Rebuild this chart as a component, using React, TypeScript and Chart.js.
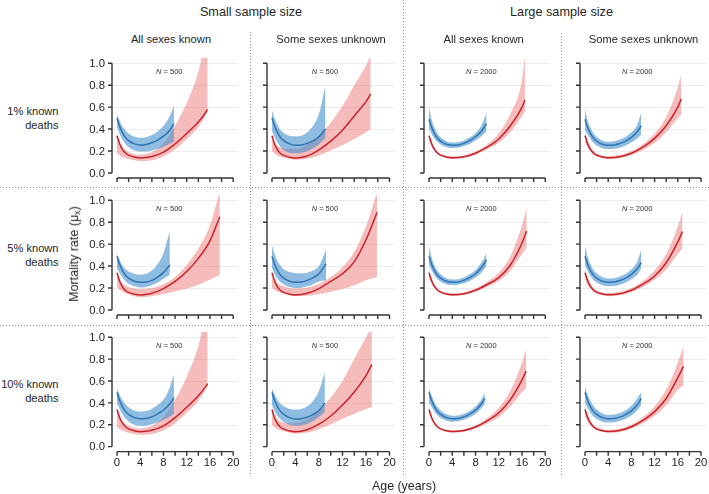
import React, { useEffect, useRef } from "react";
import { Chart, registerables } from "chart.js";

Chart.register(...registerables);

// ---------- tick labels / headers ----------
const X_TICKS = [0, 4, 8, 12, 16, 20];
const X_MINOR = [0, 2, 4, 6, 8, 10, 12, 14, 16, 18, 20];
const Y_TICKS = [0, 0.2, 0.4, 0.6, 0.8, 1.0];
const GROUP_TITLES = ["Small sample size", "Large sample size"];
const COL_TITLES = ["All sexes known", "Some sexes unknown", "All sexes known", "Some sexes unknown"];
const ROW_TITLES = [["1% known", "deaths"], ["5% known", "deaths"], ["10% known", "deaths"]];
const SAMPLE_N = [500, 500, 2000, 2000];

// ---------- data: row 1 (1% known deaths) ----------
const r1c1BlueAge = [0, 0.5, 1, 1.5, 2, 3, 4, 5, 6, 7, 8, 9, 9.8];
const r1c1BlueMid = [0.5, 0.42, 0.36, 0.32, 0.295, 0.265, 0.255, 0.26, 0.275, 0.3, 0.335, 0.385, 0.45];
const r1c1BlueHi = [0.53, 0.47, 0.42, 0.385, 0.36, 0.33, 0.32, 0.325, 0.345, 0.38, 0.43, 0.51, 0.61];
const r1c1BlueLo = [0.42, 0.35, 0.3, 0.26, 0.235, 0.205, 0.195, 0.195, 0.205, 0.22, 0.24, 0.265, 0.285];
const r1c1RedAge = [0, 0.5, 1, 1.5, 2, 3, 4, 6, 8, 10, 12, 14, 15, 15.6];
const r1c1RedMid = [0.34, 0.26, 0.21, 0.18, 0.163, 0.145, 0.137, 0.15, 0.19, 0.265, 0.36, 0.465, 0.53, 0.58];
const r1c1RedHi = [0.345, 0.28, 0.235, 0.205, 0.19, 0.17, 0.165, 0.19, 0.27, 0.43, 0.64, 0.92, 1.15, 1.3];
const r1c1RedLo = [0.18, 0.16, 0.145, 0.135, 0.128, 0.115, 0.108, 0.115, 0.15, 0.215, 0.31, 0.42, 0.5, 0.56];

const r1c2BlueAge = [0, 0.5, 1, 1.5, 2, 3, 4, 5, 6, 7, 8, 9.1];
const r1c2BlueMid = [0.5, 0.42, 0.36, 0.32, 0.295, 0.265, 0.252, 0.255, 0.27, 0.295, 0.33, 0.4];
const r1c2BlueHi = [0.57, 0.49, 0.43, 0.39, 0.365, 0.34, 0.335, 0.34, 0.37, 0.43, 0.54, 0.8];
const r1c2BlueLo = [0.38, 0.32, 0.27, 0.235, 0.21, 0.185, 0.18, 0.185, 0.2, 0.225, 0.26, 0.32];
const r1c2RedAge = [0, 0.5, 1, 1.5, 2, 3, 4, 6, 8, 10, 12, 14, 16, 16.8];
const r1c2RedMid = [0.34, 0.255, 0.205, 0.175, 0.16, 0.143, 0.137, 0.155, 0.21, 0.29, 0.39, 0.52, 0.65, 0.72];
const r1c2RedHi = [0.345, 0.28, 0.245, 0.23, 0.225, 0.22, 0.22, 0.26, 0.34, 0.46, 0.61, 0.8, 0.98, 1.08];
const r1c2RedLo = [0.2, 0.175, 0.16, 0.148, 0.14, 0.128, 0.12, 0.13, 0.16, 0.205, 0.255, 0.31, 0.37, 0.4];

const r1c3BlueAge = [0, 0.5, 1, 1.5, 2, 3, 4, 5, 6, 7, 8, 9, 9.9];
const r1c3BlueMid = [0.49, 0.41, 0.355, 0.315, 0.29, 0.262, 0.252, 0.255, 0.27, 0.295, 0.33, 0.38, 0.45];
const r1c3BlueHi = [0.6, 0.48, 0.405, 0.355, 0.325, 0.29, 0.277, 0.28, 0.297, 0.325, 0.365, 0.43, 0.55];
const r1c3BlueLo = [0.4, 0.35, 0.31, 0.28, 0.258, 0.235, 0.227, 0.23, 0.243, 0.265, 0.295, 0.335, 0.38];
const r1c3RedAge = [0, 0.5, 1, 1.5, 2, 3, 4, 6, 8, 10, 12, 14, 16, 16.5];
const r1c3RedMid = [0.34, 0.26, 0.21, 0.18, 0.163, 0.145, 0.138, 0.148, 0.18, 0.235, 0.31, 0.43, 0.6, 0.665];
const r1c3RedHi = [0.36, 0.28, 0.225, 0.193, 0.175, 0.156, 0.149, 0.16, 0.195, 0.26, 0.36, 0.54, 0.85, 1.08];
const r1c3RedLo = [0.3, 0.235, 0.195, 0.168, 0.152, 0.135, 0.128, 0.137, 0.167, 0.215, 0.275, 0.37, 0.52, 0.56];

const r1c4BlueAge = [0, 0.5, 1, 1.5, 2, 3, 4, 5, 6, 7, 8, 9, 9.7];
const r1c4BlueMid = [0.49, 0.41, 0.355, 0.315, 0.29, 0.262, 0.252, 0.255, 0.268, 0.29, 0.325, 0.375, 0.43];
const r1c4BlueHi = [0.58, 0.47, 0.405, 0.36, 0.33, 0.297, 0.285, 0.29, 0.305, 0.33, 0.37, 0.44, 0.55];
const r1c4BlueLo = [0.39, 0.345, 0.305, 0.272, 0.25, 0.226, 0.218, 0.22, 0.23, 0.25, 0.28, 0.315, 0.35];
const r1c4RedAge = [0, 0.5, 1, 1.5, 2, 3, 4, 6, 8, 10, 12, 14, 16, 16.6];
const r1c4RedMid = [0.34, 0.26, 0.21, 0.18, 0.163, 0.145, 0.138, 0.148, 0.18, 0.235, 0.315, 0.43, 0.6, 0.676];
const r1c4RedHi = [0.37, 0.29, 0.235, 0.2, 0.18, 0.16, 0.152, 0.165, 0.2, 0.265, 0.36, 0.51, 0.78, 0.9];
const r1c4RedLo = [0.28, 0.225, 0.19, 0.165, 0.15, 0.133, 0.126, 0.134, 0.163, 0.21, 0.275, 0.37, 0.5, 0.53];

// ---------- data: row 2 (5% known deaths) ----------
const r2c1BlueAge = [0, 0.5, 1, 1.5, 2, 3, 4, 5, 6, 7, 8, 9.1];
const r2c1BlueMid = [0.49, 0.41, 0.355, 0.315, 0.29, 0.262, 0.252, 0.255, 0.27, 0.3, 0.34, 0.41];
const r2c1BlueHi = [0.51, 0.45, 0.4, 0.37, 0.35, 0.33, 0.32, 0.33, 0.36, 0.42, 0.52, 0.72];
const r2c1BlueLo = [0.38, 0.33, 0.29, 0.26, 0.24, 0.215, 0.205, 0.21, 0.225, 0.25, 0.285, 0.32];
const r2c1RedAge = [0, 0.5, 1, 1.5, 2, 3, 4, 6, 8, 10, 12, 14, 16, 17.7];
const r2c1RedMid = [0.34, 0.255, 0.205, 0.175, 0.16, 0.143, 0.137, 0.152, 0.195, 0.26, 0.35, 0.47, 0.63, 0.85];
const r2c1RedHi = [0.345, 0.28, 0.24, 0.22, 0.21, 0.195, 0.19, 0.2, 0.235, 0.3, 0.41, 0.56, 0.77, 1.08];
const r2c1RedLo = [0.21, 0.185, 0.165, 0.15, 0.14, 0.125, 0.115, 0.125, 0.145, 0.17, 0.195, 0.23, 0.275, 0.32];

const r2c2BlueAge = [0, 0.5, 1, 1.5, 2, 3, 4, 5, 6, 7, 8, 9.2];
const r2c2BlueMid = [0.49, 0.41, 0.355, 0.315, 0.29, 0.262, 0.252, 0.255, 0.27, 0.295, 0.33, 0.42];
const r2c2BlueHi = [0.59, 0.5, 0.44, 0.4, 0.37, 0.345, 0.335, 0.335, 0.34, 0.36, 0.4, 0.55];
const r2c2BlueLo = [0.38, 0.32, 0.28, 0.25, 0.232, 0.21, 0.2, 0.203, 0.215, 0.235, 0.26, 0.27];
const r2c2RedAge = [0, 0.5, 1, 1.5, 2, 3, 4, 6, 8, 10, 12, 14, 16, 17.9];
const r2c2RedMid = [0.34, 0.255, 0.205, 0.175, 0.16, 0.143, 0.137, 0.152, 0.195, 0.26, 0.33, 0.44, 0.64, 0.89];
const r2c2RedHi = [0.345, 0.28, 0.24, 0.225, 0.215, 0.2, 0.195, 0.205, 0.24, 0.3, 0.39, 0.53, 0.76, 1.08];
const r2c2RedLo = [0.2, 0.18, 0.165, 0.155, 0.147, 0.135, 0.128, 0.13, 0.145, 0.165, 0.19, 0.225, 0.27, 0.3];

const r2c3BlueAge = [0, 0.5, 1, 1.5, 2, 3, 4, 5, 6, 7, 8, 9, 9.9];
const r2c3BlueMid = [0.49, 0.41, 0.355, 0.315, 0.29, 0.262, 0.252, 0.255, 0.27, 0.295, 0.33, 0.385, 0.455];
const r2c3BlueHi = [0.58, 0.47, 0.4, 0.355, 0.325, 0.29, 0.277, 0.28, 0.297, 0.325, 0.365, 0.43, 0.52];
const r2c3BlueLo = [0.41, 0.355, 0.31, 0.28, 0.258, 0.235, 0.227, 0.23, 0.243, 0.265, 0.295, 0.34, 0.4];
const r2c3RedAge = [0, 0.5, 1, 1.5, 2, 3, 4, 6, 8, 10, 12, 14, 16, 16.8];
const r2c3RedMid = [0.34, 0.26, 0.21, 0.18, 0.163, 0.145, 0.138, 0.148, 0.18, 0.232, 0.295, 0.41, 0.61, 0.72];
const r2c3RedHi = [0.36, 0.28, 0.225, 0.193, 0.175, 0.156, 0.149, 0.16, 0.195, 0.255, 0.34, 0.49, 0.77, 0.93];
const r2c3RedLo = [0.29, 0.235, 0.195, 0.168, 0.152, 0.135, 0.128, 0.137, 0.167, 0.212, 0.265, 0.36, 0.51, 0.57];

const r2c4BlueAge = [0, 0.5, 1, 1.5, 2, 3, 4, 5, 6, 7, 8, 9, 9.7];
const r2c4BlueMid = [0.49, 0.41, 0.355, 0.315, 0.29, 0.262, 0.252, 0.255, 0.268, 0.29, 0.325, 0.375, 0.43];
const r2c4BlueHi = [0.58, 0.48, 0.41, 0.365, 0.335, 0.3, 0.287, 0.29, 0.305, 0.33, 0.37, 0.44, 0.55];
const r2c4BlueLo = [0.41, 0.35, 0.305, 0.27, 0.25, 0.225, 0.215, 0.218, 0.23, 0.25, 0.28, 0.32, 0.38];
const r2c4RedAge = [0, 0.5, 1, 1.5, 2, 3, 4, 6, 8, 10, 12, 14, 16, 16.8];
const r2c4RedMid = [0.34, 0.26, 0.21, 0.18, 0.163, 0.145, 0.138, 0.148, 0.18, 0.235, 0.31, 0.43, 0.62, 0.714];
const r2c4RedHi = [0.37, 0.29, 0.235, 0.2, 0.18, 0.16, 0.152, 0.165, 0.2, 0.265, 0.36, 0.51, 0.76, 0.9];
const r2c4RedLo = [0.28, 0.225, 0.19, 0.165, 0.15, 0.133, 0.126, 0.134, 0.163, 0.21, 0.275, 0.37, 0.51, 0.56];

// ---------- data: row 3 (10% known deaths) ----------
const r3c1BlueAge = [0, 0.5, 1, 1.5, 2, 3, 4, 5, 6, 7, 8, 9, 9.8];
const r3c1BlueMid = [0.495, 0.415, 0.36, 0.32, 0.295, 0.265, 0.255, 0.258, 0.272, 0.3, 0.335, 0.385, 0.447];
const r3c1BlueHi = [0.53, 0.47, 0.42, 0.385, 0.36, 0.33, 0.32, 0.325, 0.345, 0.38, 0.43, 0.53, 0.66];
const r3c1BlueLo = [0.4, 0.34, 0.29, 0.255, 0.23, 0.2, 0.19, 0.192, 0.205, 0.22, 0.245, 0.27, 0.3];
const r3c1RedAge = [0, 0.5, 1, 1.5, 2, 3, 4, 6, 8, 10, 12, 14, 15, 15.6];
const r3c1RedMid = [0.34, 0.26, 0.21, 0.18, 0.163, 0.145, 0.137, 0.15, 0.19, 0.265, 0.36, 0.465, 0.53, 0.575];
const r3c1RedHi = [0.345, 0.28, 0.235, 0.205, 0.19, 0.17, 0.165, 0.19, 0.27, 0.43, 0.64, 0.92, 1.15, 1.3];
const r3c1RedLo = [0.18, 0.16, 0.145, 0.135, 0.128, 0.115, 0.108, 0.115, 0.15, 0.215, 0.31, 0.42, 0.5, 0.555];

const r3c2BlueAge = [0, 0.5, 1, 1.5, 2, 3, 4, 5, 6, 7, 8, 9];
const r3c2BlueMid = [0.495, 0.415, 0.36, 0.32, 0.295, 0.265, 0.253, 0.255, 0.27, 0.295, 0.33, 0.4];
const r3c2BlueHi = [0.53, 0.47, 0.42, 0.39, 0.37, 0.345, 0.34, 0.345, 0.37, 0.42, 0.51, 0.68];
const r3c2BlueLo = [0.38, 0.32, 0.275, 0.245, 0.225, 0.2, 0.19, 0.195, 0.21, 0.235, 0.27, 0.32];
const r3c2RedAge = [0, 0.5, 1, 1.5, 2, 3, 4, 6, 8, 10, 12, 14, 16, 17];
const r3c2RedMid = [0.34, 0.255, 0.205, 0.175, 0.16, 0.143, 0.137, 0.155, 0.205, 0.28, 0.38, 0.5, 0.65, 0.75];
const r3c2RedHi = [0.345, 0.28, 0.245, 0.23, 0.22, 0.215, 0.215, 0.25, 0.33, 0.45, 0.6, 0.8, 1.0, 1.1];
const r3c2RedLo = [0.2, 0.175, 0.16, 0.148, 0.14, 0.128, 0.12, 0.13, 0.16, 0.205, 0.255, 0.3, 0.345, 0.36];

const r3c3BlueAge = [0, 0.5, 1, 1.5, 2, 3, 4, 5, 6, 7, 8, 9, 9.6];
const r3c3BlueMid = [0.495, 0.415, 0.36, 0.32, 0.295, 0.265, 0.255, 0.258, 0.272, 0.297, 0.333, 0.39, 0.44];
const r3c3BlueHi = [0.53, 0.46, 0.4, 0.36, 0.33, 0.295, 0.282, 0.285, 0.3, 0.327, 0.367, 0.43, 0.49];
const r3c3BlueLo = [0.4, 0.36, 0.315, 0.285, 0.262, 0.237, 0.228, 0.232, 0.245, 0.268, 0.3, 0.35, 0.39];
const r3c3RedAge = [0, 0.5, 1, 1.5, 2, 3, 4, 6, 8, 10, 12, 14, 16, 16.7];
const r3c3RedMid = [0.34, 0.26, 0.21, 0.18, 0.163, 0.145, 0.138, 0.148, 0.18, 0.235, 0.31, 0.43, 0.61, 0.69];
const r3c3RedHi = [0.355, 0.275, 0.222, 0.19, 0.173, 0.155, 0.148, 0.159, 0.195, 0.26, 0.355, 0.51, 0.77, 0.89];
const r3c3RedLo = [0.3, 0.237, 0.195, 0.168, 0.152, 0.135, 0.128, 0.137, 0.167, 0.212, 0.27, 0.37, 0.5, 0.54];

const r3c4BlueAge = [0, 0.5, 1, 1.5, 2, 3, 4, 5, 6, 7, 8, 9, 9.7];
const r3c4BlueMid = [0.495, 0.415, 0.36, 0.32, 0.295, 0.265, 0.255, 0.258, 0.27, 0.293, 0.327, 0.38, 0.44];
const r3c4BlueHi = [0.55, 0.47, 0.41, 0.37, 0.34, 0.303, 0.29, 0.293, 0.307, 0.333, 0.373, 0.44, 0.5];
const r3c4BlueLo = [0.4, 0.35, 0.305, 0.273, 0.252, 0.228, 0.22, 0.223, 0.235, 0.255, 0.285, 0.33, 0.38];
const r3c4RedAge = [0, 0.5, 1, 1.5, 2, 3, 4, 6, 8, 10, 12, 14, 16, 17];
const r3c4RedMid = [0.34, 0.26, 0.21, 0.18, 0.163, 0.145, 0.138, 0.148, 0.182, 0.24, 0.32, 0.44, 0.63, 0.735];
const r3c4RedHi = [0.37, 0.29, 0.235, 0.2, 0.18, 0.16, 0.152, 0.165, 0.2, 0.27, 0.37, 0.52, 0.77, 0.92];
const r3c4RedLo = [0.28, 0.225, 0.19, 0.165, 0.15, 0.133, 0.126, 0.134, 0.165, 0.215, 0.28, 0.38, 0.52, 0.56];

// ---------- assemble panels ----------
const series = (age: number[], mid: number[], hi: number[], lo: number[]) => ({ age, mid, hi, lo });
const PANELS = [
  { row: 0, col: 0, blue: series(r1c1BlueAge, r1c1BlueMid, r1c1BlueHi, r1c1BlueLo), red: series(r1c1RedAge, r1c1RedMid, r1c1RedHi, r1c1RedLo) },
  { row: 0, col: 1, blue: series(r1c2BlueAge, r1c2BlueMid, r1c2BlueHi, r1c2BlueLo), red: series(r1c2RedAge, r1c2RedMid, r1c2RedHi, r1c2RedLo) },
  { row: 0, col: 2, blue: series(r1c3BlueAge, r1c3BlueMid, r1c3BlueHi, r1c3BlueLo), red: series(r1c3RedAge, r1c3RedMid, r1c3RedHi, r1c3RedLo) },
  { row: 0, col: 3, blue: series(r1c4BlueAge, r1c4BlueMid, r1c4BlueHi, r1c4BlueLo), red: series(r1c4RedAge, r1c4RedMid, r1c4RedHi, r1c4RedLo) },
  { row: 1, col: 0, blue: series(r2c1BlueAge, r2c1BlueMid, r2c1BlueHi, r2c1BlueLo), red: series(r2c1RedAge, r2c1RedMid, r2c1RedHi, r2c1RedLo) },
  { row: 1, col: 1, blue: series(r2c2BlueAge, r2c2BlueMid, r2c2BlueHi, r2c2BlueLo), red: series(r2c2RedAge, r2c2RedMid, r2c2RedHi, r2c2RedLo) },
  { row: 1, col: 2, blue: series(r2c3BlueAge, r2c3BlueMid, r2c3BlueHi, r2c3BlueLo), red: series(r2c3RedAge, r2c3RedMid, r2c3RedHi, r2c3RedLo) },
  { row: 1, col: 3, blue: series(r2c4BlueAge, r2c4BlueMid, r2c4BlueHi, r2c4BlueLo), red: series(r2c4RedAge, r2c4RedMid, r2c4RedHi, r2c4RedLo) },
  { row: 2, col: 0, blue: series(r3c1BlueAge, r3c1BlueMid, r3c1BlueHi, r3c1BlueLo), red: series(r3c1RedAge, r3c1RedMid, r3c1RedHi, r3c1RedLo) },
  { row: 2, col: 1, blue: series(r3c2BlueAge, r3c2BlueMid, r3c2BlueHi, r3c2BlueLo), red: series(r3c2RedAge, r3c2RedMid, r3c2RedHi, r3c2RedLo) },
  { row: 2, col: 2, blue: series(r3c3BlueAge, r3c3BlueMid, r3c3BlueHi, r3c3BlueLo), red: series(r3c3RedAge, r3c3RedMid, r3c3RedHi, r3c3RedLo) },
  { row: 2, col: 3, blue: series(r3c4BlueAge, r3c4BlueMid, r3c4BlueHi, r3c4BlueLo), red: series(r3c4RedAge, r3c4RedMid, r3c4RedHi, r3c4RedLo) },
];

// ---------- layout (page pixels) ----------
const COL_X0 = [116.5, 272, 428.7, 585];
const COL_X20 = [232.7, 389.5, 545, 701];
const ROW_Y1 = [63.3, 200.3, 337.3];
const ROW_Y0 = [168.3, 305.3, 442];
const CW = 172;
const CH = 150;
const OFF_L = 40;
const OFF_T = 12;
const Y_MIN = -0.06;
const Y_MAX = 1.05;
const X_MIN = -1;
const X_MAX = 21;

const FONT = "'Liberation Sans', Arial, Helvetica, sans-serif";
const TEXT = "#262626";
const AXIS = "#333333";
const BLUE_LINE = "#2f74b2";
const BLUE_BAND = "rgba(60,142,204,0.58)";
const RED_LINE = "#c8232b";
const RED_BAND = "rgba(234,104,104,0.45)";

const pts = (age: number[], vals: number[]) => age.map((a, i) => ({ x: a, y: vals[i] }));

const axesPlugin = {
  id: "panelAxes",
  beforeDatasetsDraw(chart: any) {
    const { ctx, scales } = chart;
    const x = scales.x, y = scales.y;
    const axX = x.getPixelForValue(0) - 5;
    const gx2 = x.getPixelForValue(20.8);
    ctx.save();
    ctx.strokeStyle = "#ebebeb";
    ctx.lineWidth = 1;
    for (const v of Y_TICKS) {
      if (v === 0) continue;
      const py = Math.round(y.getPixelForValue(v)) + 0.5;
      ctx.beginPath();
      ctx.moveTo(axX, py);
      ctx.lineTo(gx2, py);
      ctx.stroke();
    }
    ctx.restore();
  },
  afterDatasetsDraw(chart: any, _a: any, opts: any) {
    const { ctx, scales } = chart;
    const x = scales.x, y = scales.y;
    const px0 = x.getPixelForValue(0);
    const px20 = x.getPixelForValue(20);
    const py0 = y.getPixelForValue(0);
    const py1 = y.getPixelForValue(1);
    const axX = px0 - 5;
    const axY = py0 + 5;
    ctx.save();
    ctx.strokeStyle = AXIS;
    ctx.lineWidth = 1.4;
    ctx.beginPath();
    ctx.moveTo(axX, py1);
    ctx.lineTo(axX, py0);
    for (const v of Y_TICKS) {
      const py = y.getPixelForValue(v);
      ctx.moveTo(axX, py);
      ctx.lineTo(axX - 4, py);
    }
    ctx.moveTo(px0, axY);
    ctx.lineTo(px20, axY);
    for (const v of X_MINOR) {
      const px = x.getPixelForValue(v);
      ctx.moveTo(px, axY);
      ctx.lineTo(px, axY + 4);
    }
    ctx.stroke();

    ctx.fillStyle = TEXT;
    ctx.font = `11.3px ${FONT}`;
    if (opts.showY) {
      ctx.textAlign = "right";
      ctx.textBaseline = "middle";
      for (const v of Y_TICKS) {
        ctx.fillText(v.toFixed(1), axX - 7, y.getPixelForValue(v) + 0.5);
      }
    }
    if (opts.showX) {
      ctx.textAlign = "center";
      ctx.textBaseline = "top";
      for (const v of X_TICKS) {
        ctx.fillText(String(v), x.getPixelForValue(v), axY + 5.5);
      }
    }
    // N label
    const cx = x.getPixelForValue(9);
    const cy = y.getPixelForValue(0.92);
    ctx.textBaseline = "middle";
    ctx.textAlign = "left";
    ctx.font = `italic 7.5px ${FONT}`;
    const nW = ctx.measureText("N").width;
    ctx.font = `7.5px ${FONT}`;
    const rest = ` = ${opts.n}`;
    const rW = ctx.measureText(rest).width;
    const start = cx - (nW + rW) / 2;
    ctx.fillStyle = "#333";
    ctx.font = `italic 7.5px ${FONT}`;
    ctx.fillText("N", start, cy);
    ctx.font = `7.5px ${FONT}`;
    ctx.fillText(rest, start + nW, cy);
    ctx.restore();
  },
};

function makeConfig(p: any) {
  const s = (COL_X20[p.col] - COL_X0[p.col]) / 20;
  const v = ROW_Y0[p.row] - ROW_Y1[p.row];
  const padding = {
    left: OFF_L - s * (0 - X_MIN),
    right: CW - OFF_L - s * X_MAX,
    top: OFF_T - v * (Y_MAX - 1),
    bottom: CH - OFF_T - v * (Y_MAX - Y_MIN),
  };
  const band = (data: any, color: string, fill: any) => ({
    data,
    borderWidth: 0,
    borderColor: "transparent",
    backgroundColor: color,
    pointRadius: 0,
    fill,
    cubicInterpolationMode: "monotone",
  });
  const line = (data: any, color: string) => ({
    data,
    borderWidth: 1.5,
    borderColor: color,
    pointRadius: 0,
    fill: false,
    cubicInterpolationMode: "monotone",
  });
  return {
    type: "line",
    data: {
      datasets: [
        line(pts(p.blue.age, p.blue.mid), BLUE_LINE),
        line(pts(p.red.age, p.red.mid), RED_LINE),
        band(pts(p.blue.age, p.blue.hi), BLUE_BAND, "+1"),
        band(pts(p.blue.age, p.blue.lo), "transparent", false),
        band(pts(p.red.age, p.red.hi), RED_BAND, "+1"),
        band(pts(p.red.age, p.red.lo), "transparent", false),
      ],
    },
    options: {
      responsive: false,
      animation: false,
      devicePixelRatio: 1,
      events: [],
      layout: { padding },
      scales: {
        x: { type: "linear", min: X_MIN, max: X_MAX, display: false },
        y: { type: "linear", min: Y_MIN, max: Y_MAX, display: false },
      },
      plugins: {
        legend: { display: false },
        tooltip: { enabled: false },
        panelAxes: { showY: p.col === 0, showX: p.row === 2, n: SAMPLE_N[p.col] },
      },
    },
    plugins: [axesPlugin],
  };
}

const dotV = (x: number, y1: number, y2: number) => (
  <div
    style={{
      position: "absolute",
      left: x,
      top: y1,
      width: 1,
      height: y2 - y1,
      background: "repeating-linear-gradient(to bottom, #8a8a8a 0px, #8a8a8a 1px, transparent 1px, transparent 3px)",
    }}
  />
);
const dotH = (y: number, x1: number, x2: number) => (
  <div
    style={{
      position: "absolute",
      left: x1,
      top: y,
      width: x2 - x1,
      height: 1,
      background: "repeating-linear-gradient(to right, #8a8a8a 0px, #8a8a8a 1px, transparent 1px, transparent 3px)",
    }}
  />
);

const centered = (x: number, y: number, size: number, text: any, extra: any = {}) => (
  <div
    style={{
      position: "absolute",
      left: x,
      top: y,
      transform: "translate(-50%, -50%)",
      whiteSpace: "nowrap",
      fontSize: size,
      lineHeight: 1,
      ...extra,
    }}
  >
    {text}
  </div>
);

export default function App() {
  const refs = useRef<(HTMLCanvasElement | null)[]>([]);
  useEffect(() => {
    const charts = PANELS.map((p, i) => new Chart(refs.current[i] as HTMLCanvasElement, makeConfig(p) as any));
    return () => charts.forEach((c) => c.destroy());
  }, []);

  const colCenters = [171, 331, 483.7, 643.5];
  const rowLabelY = [110.7, 247.7, 384.3];

  return (
    <div style={{ position: "absolute", left: 0, top: 0, width: 709, height: 494, fontFamily: FONT, color: TEXT, background: "#fff", overflow: "hidden" }}>
      {PANELS.map((p, i) => (
        <canvas
          key={i}
          ref={(el) => { refs.current[i] = el; }}
          width={CW}
          height={CH}
          style={{ position: "absolute", left: COL_X0[p.col] - OFF_L, top: ROW_Y1[p.row] - OFF_T, width: CW, height: CH }}
        />
      ))}
      {centered(251, 12, 12.7, GROUP_TITLES[0])}
      {centered(561.5, 12, 12.7, GROUP_TITLES[1])}
      {COL_TITLES.map((t, i) => <React.Fragment key={i}>{centered(colCenters[i], 39.5, 11.2, t)}</React.Fragment>)}
      {ROW_TITLES.map((lines, i) => (
        <div
          key={i}
          style={{ position: "absolute", left: 0, width: 58.5, top: rowLabelY[i] - 7, textAlign: "right", fontSize: 11.1, lineHeight: "14px", whiteSpace: "nowrap" }}
        >
          {lines[0]}
          <br />
          {lines[1]}
        </div>
      ))}
      {centered(75, 254, 12.5, <span>Mortality rate (μ<sub style={{ fontSize: "0.7em", verticalAlign: "-0.25em" }}>x</sub>)</span>, { transform: "translate(-50%, -50%) rotate(-90deg)" })}
      {centered(404, 486, 12.4, "Age (years)")}
      {dotV(250, 32, 475)}
      {dotV(403, 0, 475)}
      {dotV(561, 33, 475)}
      {dotH(187, 0, 709)}
      {dotH(325, 0, 709)}
    </div>
  );
}
